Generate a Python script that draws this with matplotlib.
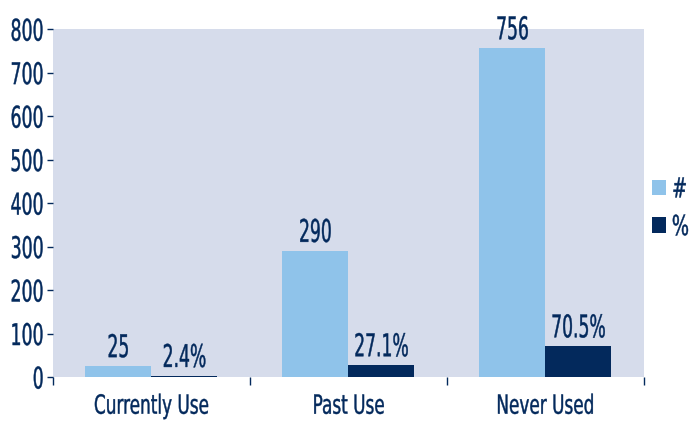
import numpy as np
import matplotlib.pyplot as plt
from matplotlib.patheffects import AbstractPathEffect
from matplotlib.transforms import Affine2D, Bbox

categories = ['Currently Use', 'Past Use', 'Never Used']
counts = [25, 290, 756]
percents = [2.4, 27.1, 70.5]
yticks = [0, 100, 200, 300, 400, 500, 600, 700, 800]

navy = '#03295c'
light = '#8fc3ea'
bg = '#d6dceb'


# squeeze text horizontally (and thicken a bit) to mimic a condensed typeface
class Squeeze(AbstractPathEffect):
    def __init__(self, sx, anchor='center', lw=0.3):
        super().__init__()
        self.sx = sx
        self.anchor = anchor
        self.lw = lw

    def draw_path(self, renderer, gc, tpath, affine, rgbFace=None):
        ext = tpath.get_extents()
        if self.anchor == 'right':
            cx = ext.x1
        elif self.anchor == 'left':
            cx = ext.x0
        else:
            cx = (ext.x0 + ext.x1) / 2
        t = Affine2D().translate(-cx, 0).scale(self.sx, 1).translate(cx, 0) + affine
        gc0 = renderer.new_gc()
        gc0.copy_properties(gc)
        gc0.set_linewidth(self.lw)
        gc0.set_foreground(rgbFace)
        renderer.draw_path(gc0, tpath, t, rgbFace)
        gc0.restore()


def squeeze(t, sx, anchor='center'):
    t.set_path_effects([Squeeze(sx, anchor)])
    orig = t.get_window_extent

    def extent(renderer=None, dpi=None):
        bb = orig(renderer, dpi)
        wd = bb.width * sx
        if anchor == 'right':
            x0 = bb.x1 - wd
        elif anchor == 'left':
            x0 = bb.x0
        else:
            x0 = (bb.x0 + bb.x1) / 2 - wd / 2
        return Bbox([[x0, bb.y0], [x0 + wd, bb.y1]])
    t.get_window_extent = extent


fig = plt.figure(figsize=(6.91, 4.22), dpi=100)
ax = fig.add_axes([0.0767, 0.1066, 0.855, 0.8244])
ax.set_facecolor(bg)

x = np.arange(len(categories))
w = 0.335
b1 = ax.bar(x - w / 2, counts, w, color=light, label='#')
b2 = ax.bar(x + w / 2, percents, w, color=navy, label='%')

for r, v in zip(b1, counts):
    a = ax.annotate(str(v), (r.get_x() + r.get_width() / 2, v), xytext=(0, 6.5),
                    textcoords='offset points', ha='center', va='baseline',
                    fontsize=22.5, color=navy)
    squeeze(a, 0.55)
for r, v in zip(b2, percents):
    a = ax.annotate(f'{v}%', (r.get_x() + r.get_width() / 2, v), xytext=(0, 6.5),
                    textcoords='offset points', ha='center', va='baseline',
                    fontsize=22.5, color=navy)
    squeeze(a, 0.55)

ax.set_xlim(-0.5, 2.5)
ax.set_ylim(0, 800)
ax.set_yticks(yticks)
ax.set_yticklabels([str(t) for t in yticks], fontsize=21.5, color=navy)
ax.tick_params(axis='y', length=4.5, width=1, color=navy, pad=1.5)
for t in ax.get_yticklabels():
    squeeze(t, 0.58, 'right')
ax.set_xticks(x)
ax.set_xticklabels(categories, fontsize=19, color=navy)
ax.tick_params(axis='x', which='major', length=0, pad=12)
for t in ax.get_xticklabels():
    squeeze(t, 0.64)
ax.set_xticks([-0.5, 0.5, 1.5, 2.5], minor=True)
ax.tick_params(axis='x', which='minor', length=5.5, width=1, color=navy, pad=1)
for s in ax.spines.values():
    s.set_visible(False)

leg = ax.legend(loc='center left', bbox_to_anchor=(1.0, 0.485), frameon=False,
                fontsize=20, handlelength=0.5, handleheight=0.5, handletextpad=0.2,
                labelspacing=0.35, borderaxespad=0.15, borderpad=0.14)
for t in leg.get_texts():
    t.set_color(navy)
    squeeze(t, 0.65, 'left')

fig.savefig('out.png', dpi=100)
